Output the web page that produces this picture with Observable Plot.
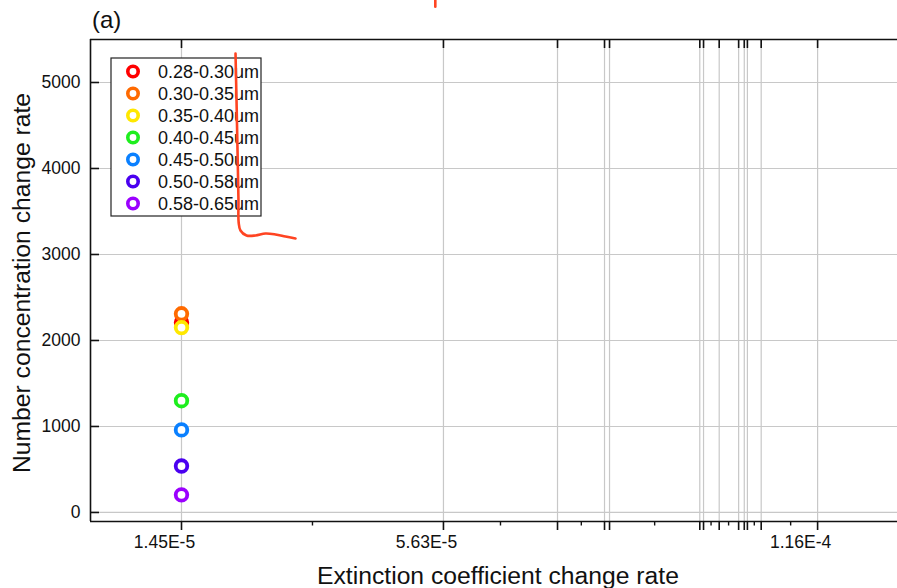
<!DOCTYPE html>
<html><head><meta charset="utf-8">
<script src="https://cdn.jsdelivr.net/npm/d3@7"></script>
<script src="https://cdn.jsdelivr.net/npm/@observablehq/plot@0.6"></script>
<style>body{margin:0;background:#fff} svg{display:block}</style>
</head><body><div id="chart"></div><script>
const bands = ["0.28-0.30um","0.30-0.35um","0.35-0.40um","0.40-0.45um","0.45-0.50um","0.50-0.58um","0.58-0.65um"];
const colors = ["#ff0000","#ff6a00","#ffe800","#1eee1e","#0a80ff","#4a00f0","#9b00ff"];
const xValues = [1.45e-5,1.45e-5,1.45e-5,1.45e-5,1.45e-5,1.45e-5,1.45e-5];
const yValues = [2210,2310,2150,1300,960,540,205];
const xLabelTicks = [1.45e-5,5.63e-5,1.16e-4];
const xLabelText = ["1.45E-5","5.63E-5","1.16E-4"];
const xMajorTicks = [1.45e-5,5.63e-5,7.45e-5,8.20e-5,8.28e-5,9.72e-5,9.78e-5,1.003e-4,1.034e-4,1.043e-4,1.048e-4,1.070e-4,1.16e-4];
const xMinorTicks = [3.54e-5,6.54e-5,7.83e-5,9.00e-5,9.90e-5,1.018e-4,1.059e-4,1.117e-4];
const yTicks = [0,1000,2000,3000,4000,5000];
const sketchX = [2.312e-5,2.328e-5,2.344e-5,2.359e-5,2.362e-5,2.391e-5,2.487e-5,2.631e-5,2.790e-5,2.950e-5,3.109e-5,3.269e-5];
const sketchY = [5337,4791,4209,3628,3372,3279,3221,3221,3244,3233,3209,3186];
const markX = [5.50e-5,5.50e-5];
const markY = [5955,5880];

const xDomain = [-2e-8, 1.2875e-4];
const yDomain = [-105, 5500];
const font = "Liberation Sans, Arial, sans-serif";

const pts = bands.map((b,i)=>({band:b, color:colors[i], x:xValues[i], y:yValues[i]}));
const sketch = sketchX.map((x,i)=>({x, y:sketchY[i]}));
const mark = markX.map((x,i)=>({x, y:markY[i]}));
const labelMap = new Map(xLabelTicks.map((t,i)=>[t,xLabelText[i]]));

const svg = Plot.plot({
  width: 897, height: 588,
  marginLeft: 90, marginRight: 0, marginTop: 39, marginBottom: 67,
  style: {fontFamily: font, fontSize: "17.5px", background: "#fff", color: "#111", overflow: "visible"},
  x: {domain: xDomain},
  y: {domain: yDomain},
  marks: [
    Plot.gridX(xMajorTicks, {stroke: "#c8c8c8", strokeOpacity: 1, strokeWidth: 1.2}),
    Plot.gridY(yTicks, {stroke: "#c8c8c8", strokeOpacity: 1, strokeWidth: 1.2}),
    Plot.ruleY([yDomain[0], yDomain[1]], {stroke: "#111", strokeWidth: 1.6}),
    Plot.ruleX([xDomain[0]], {stroke: "#111", strokeWidth: 1.6}),
    Plot.axisX(xMajorTicks, {anchor: "bottom", tickSize: 9, fill: "none", strokeWidth: 1.6, stroke: "#111", label: null}),
    Plot.axisX(xMinorTicks, {anchor: "bottom", tickSize: 4.5, fill: "none", strokeWidth: 1.4, stroke: "#111", label: null}),
    Plot.axisX(xLabelTicks, {anchor: "bottom", tickSize: 0, tickPadding: 14, tickFormat: d => labelMap.get(d), fontSize: 17.5, dx: -17, fill: "#111", stroke: "none", label: null}),
    Plot.axisX(xMajorTicks, {anchor: "top", tickSize: -8, fill: "none", strokeWidth: 1.6, stroke: "#111", label: null}),
    Plot.axisY(yTicks, {anchor: "left", tickSize: -9, fill: "none", strokeWidth: 1.6, stroke: "#111", label: null}),
    Plot.axisY(yTicks, {anchor: "left", tickSize: 0, tickPadding: 10, fontSize: 17.5, fill: "#111", stroke: "none", tickFormat: d => String(d), label: null}),
    Plot.line(sketch, {x: "x", y: "y", stroke: "#ff4422", strokeWidth: 2.6, curve: "catmull-rom"}),
    Plot.line(mark, {x: "x", y: "y", stroke: "#ff4422", strokeWidth: 2.6}),
    Plot.dot(pts, {x: "x", y: "y", r: 5.8, stroke: "color", strokeWidth: 3.8, fill: "#fff"})
  ]
});

const s = d3.select(svg);
s.append("text").attr("x", 92).attr("y", 28).attr("text-anchor", "start").attr("font-size", 24).attr("fill", "#111").text("(a)");
s.append("text").attr("x", 498).attr("y", 584).attr("text-anchor", "middle").attr("font-size", 24.7).attr("fill", "#111").text("Extinction coefficient change rate");
s.append("text").attr("transform", "translate(30,283) rotate(-90)").attr("text-anchor", "middle").attr("font-size", 24.7).attr("fill", "#111").text("Number concentration change rate");
const lg = s.append("g").attr("transform", "translate(111,58)");
lg.append("rect").attr("width", 150).attr("height", 158).attr("fill", "#fff").attr("stroke", "#222").attr("stroke-width", 1.2);
pts.forEach((p,i)=>{
  const yy = 13.5 + i*22;
  lg.append("circle").attr("cx", 22).attr("cy", yy).attr("r", 5.2).attr("fill", "#fff").attr("stroke", p.color).attr("stroke-width", 3.6);
  lg.append("text").attr("x", 47).attr("y", yy).attr("dy", "0.36em").attr("text-anchor", "start").attr("font-size", 18).attr("fill", "#111").text(p.band);
});
const lines = svg.querySelectorAll("g[aria-label='line']");
lines.forEach(l => svg.appendChild(l));
document.getElementById("chart").appendChild(svg);
</script></body></html>
